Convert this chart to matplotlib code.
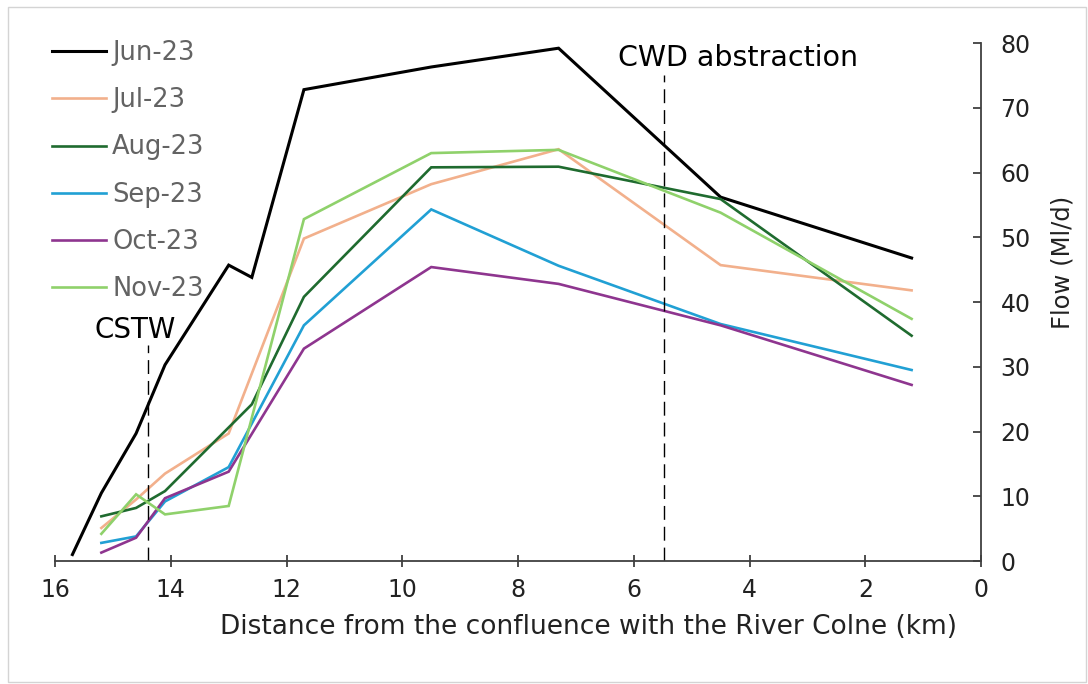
import numpy as np
import matplotlib
matplotlib.use("Agg")
import matplotlib.pyplot as plt
from matplotlib.patches import Rectangle

# distance from confluence (km) - shared vertex positions, nan where a survey has no point
dist = [15.7, 15.2, 14.6, 14.1, 13.0, 12.6, 11.7, 9.5, 7.3, 4.5, 1.2]
nan = np.nan
jun = [1.0, 10.5, 19.7, 30.3, 45.7, 43.8, 72.8, 76.3, 79.2, 56.2, 46.8]
jul = [nan, 5.1, 9.5, 13.5, 19.7, nan, 49.8, 58.2, 63.6, 45.7, 41.8]
aug = [nan, 6.9, 8.2, 10.8, nan, 24.2, 40.8, 60.8, 60.9, 55.9, 34.8]
sep = [nan, 2.8, 3.8, 9.2, 14.5, nan, 36.4, 54.3, 45.6, 36.6, 29.5]
octo = [nan, 1.3, 3.6, 9.7, 13.8, nan, 32.8, 45.4, 42.8, 36.4, 27.2]
nov = [nan, 4.2, 10.3, 7.2, 8.5, nan, 52.8, 63.0, 63.5, 53.8, 37.4]

labels = ["Jun-23", "Jul-23", "Aug-23", "Sep-23", "Oct-23", "Nov-23"]
series = [jun, jul, aug, sep, octo, nov]
colors = ["#000000", "#f2b08c", "#1f6b2f", "#21a0d4", "#8e358f", "#8fd16b"]
widths = [2.2, 1.9, 1.9, 1.9, 1.9, 1.9]

# locations of abstraction points (km) and height of marker lines
cstw_x, cstw_top = 14.4, 33.4
cwd_x, cwd_top = 5.47, 75.0

plt.rcParams.update({"font.family": "DejaVu Sans"})
fig = plt.figure(figsize=(10.88, 6.84), dpi=100)
ax = fig.add_axes([0.0506, 0.1798, 0.8511, 0.7573])

d = np.array(dist)
for y, lab, c, lw in zip(series, labels, colors, widths):
    y = np.array(y, dtype=float)
    m = np.isfinite(y)
    ax.plot(d[m], y[m], color=c, lw=lw, label=lab, solid_joinstyle="miter")

ax.plot([cstw_x, cstw_x], [0, cstw_top], color="black", lw=1.0, ls=(0, (10, 5)))
ax.plot([cwd_x, cwd_x], [0, cwd_top], color="black", lw=1.0, ls=(0, (10, 5)))
ax.text(14.61, 35.7, "CSTW", fontsize=20, ha="center", va="center", color="black")
ax.text(4.2, 77.7, "CWD abstraction", fontsize=20.5, ha="center", va="center", color="black")

ax.set_xlim(16, 0)
ax.set_ylim(0, 80)
ax.set_xticks(range(16, -1, -2))
ax.set_yticks(range(0, 81, 10))
ax.yaxis.tick_right()
for s in ["top", "left"]:
    ax.spines[s].set_visible(False)
for s in ["bottom", "right"]:
    ax.spines[s].set_color("#404040")
    ax.spines[s].set_linewidth(1.3)
ax.tick_params(axis="x", direction="inout", length=8, width=1.3, color="#404040",
               labelsize=17, pad=8, labelcolor="#222222")
ax.tick_params(axis="y", direction="in", length=6, width=1.3, color="#404040",
               labelsize=17, pad=14, labelcolor="#222222")

fig.text(0.541, 0.083, "Distance from the confluence with the River Colne (km)",
         fontsize=19, ha="center", va="center", color="#222222")
fig.text(0.977, 0.617, "Flow (Ml/d)", fontsize=17.5, ha="center", va="center",
         rotation=90, color="#222222")

leg = fig.legend(loc="upper left", bbox_to_anchor=(0.0478, 0.941), frameon=False,
                 fontsize=18.5, handlelength=2.1, handletextpad=0.24,
                 labelspacing=0.82, borderpad=0, borderaxespad=0, labelcolor="#636363")

fig.patches.append(Rectangle((8 / 1088, 2 / 684), 1078 / 1088, 675 / 684,
                             transform=fig.transFigure, fill=False,
                             edgecolor="#d4d4d4", lw=1.0))

fig.savefig("out.png", dpi=100)
